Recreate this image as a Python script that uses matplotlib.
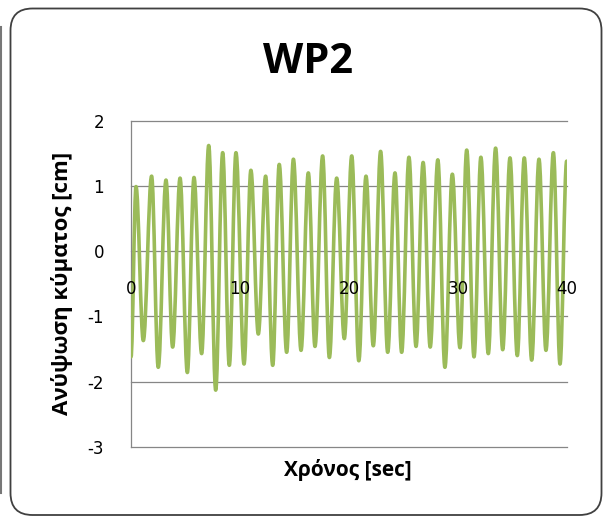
import matplotlib
matplotlib.use('Agg')
import matplotlib.pyplot as plt
from matplotlib.patches import FancyBboxPatch, PathPatch
from matplotlib.lines import Line2D
from matplotlib.path import Path

plt.rcParams['axes.unicode_minus'] = False

# wave elevation (crests and troughs)
time_s = [0, 0.46, 1.13, 1.89, 2.5, 3.21, 3.82, 4.5, 5.17, 5.78,
          6.48, 7.13, 7.77, 8.41, 9.02, 9.63, 10.37, 11.0, 11.68, 12.35,
          13.0, 13.6, 14.28, 14.9, 15.6, 16.27, 16.88, 17.58, 18.2, 18.87,
          19.57, 20.25, 20.9, 21.56, 22.23, 22.9, 23.55, 24.22, 24.83, 25.5,
          26.15, 26.8, 27.45, 28.15, 28.8, 29.48, 30.18, 30.8, 31.47, 32.1,
          32.78, 33.45, 34.1, 34.77, 35.44, 36.08, 36.76, 37.43, 38.07, 38.75,
          39.36, 39.97]
elev_cm = [-1.62, 0.99, -1.37, 1.15, -1.78, 1.09, -1.47, 1.12, -1.86, 1.13,
           -1.57, 1.62, -2.13, 1.51, -1.75, 1.51, -1.73, 1.24, -1.27, 1.15,
           -1.75, 1.33, -1.55, 1.41, -1.52, 1.2, -1.46, 1.46, -1.63, 1.12,
           -1.34, 1.46, -1.68, 1.15, -1.45, 1.53, -1.55, 1.2, -1.55, 1.44,
           -1.46, 1.36, -1.47, 1.4, -1.78, 1.18, -1.48, 1.55, -1.62, 1.44,
           -1.57, 1.58, -1.51, 1.43, -1.6, 1.43, -1.67, 1.41, -1.52, 1.51,
           -1.73, 1.38]
x_ticks = [0, 10, 20, 30, 40]
y_ticks = [-3, -2, -1, 0, 1, 2]

title = 'WP2'
xlabel = 'Χρόνος [sec]'
ylabel = 'Ανύψωση κύματος [cm]'


def smooth_path(xs, ys, k=0.36):
    # smoothed line like Excel: bezier between crest/trough, flat at each end point
    verts = [(xs[0], ys[0])]
    codes = [Path.MOVETO]
    for i in range(1, len(xs)):
        dx = xs[i] - xs[i - 1]
        verts += [(xs[i - 1] + k * dx, ys[i - 1]), (xs[i] - k * dx, ys[i]), (xs[i], ys[i])]
        codes += [Path.CURVE4] * 3
    return Path(verts, codes)


W, H = 605, 517
fig = plt.figure(figsize=(W / 100, H / 100), dpi=100)

# chart frame (rounded, Excel style) and the edge of the neighbouring chart
frame = FancyBboxPatch((10.5, H - 515), 591, 506.5,
                       boxstyle='round,pad=0,rounding_size=22',
                       transform=None, fill=False, ec='#404040', lw=1.3)
fig.patches.append(frame)
fig.lines.append(Line2D([1.2, 1.2], [H - 493, H - 27], transform=None,
                        color='#777777', lw=1.5))

left, right, top, bottom = 131, 567, 120.7, 446.9
ax = fig.add_axes([left / W, 1 - bottom / H, (right - left) / W, (bottom - top) / H])

for y in y_ticks:
    ax.axhline(y, color='#868686', lw=0.9, zorder=0.5, clip_on=False)

ax.add_patch(PathPatch(smooth_path(time_s, elev_cm), fill=False, ec='#9BBB59',
                       lw=2.6, joinstyle='round', capstyle='round', zorder=1))

ax.set_xlim(0, 40)
ax.set_ylim(-3, 2)
ax.set_xticks(x_ticks)
ax.set_yticks(y_ticks)
ax.set_axisbelow(False)

for s in ['top', 'right']:
    ax.spines[s].set_visible(False)
ax.spines['left'].set_color('#868686')
ax.spines['left'].set_linewidth(0.9)
ax.spines['left'].set_zorder(0.6)
ax.spines['bottom'].set_position(('data', 0))
ax.spines['bottom'].set_visible(False)

ax.tick_params(axis='x', length=0, pad=21, labelsize=12)
ax.tick_params(axis='y', length=0, pad=19.5, labelsize=12)

fam = ['Open Sans', 'DejaVu Sans']
fig.text(308 / W, 1 - 63 / H, title, ha='center', va='center',
         fontsize=30, fontweight='bold', family=fam)
fig.text(62 / W, 1 - 283.8 / H, ylabel, ha='center', va='center', rotation=90,
         fontsize=16, fontweight='bold', family=fam)
fig.text(347.5 / W, 1 - 470 / H, xlabel, ha='center', va='center',
         fontsize=15, fontweight='bold', family=fam)

plt.savefig('out.png', dpi=100)
